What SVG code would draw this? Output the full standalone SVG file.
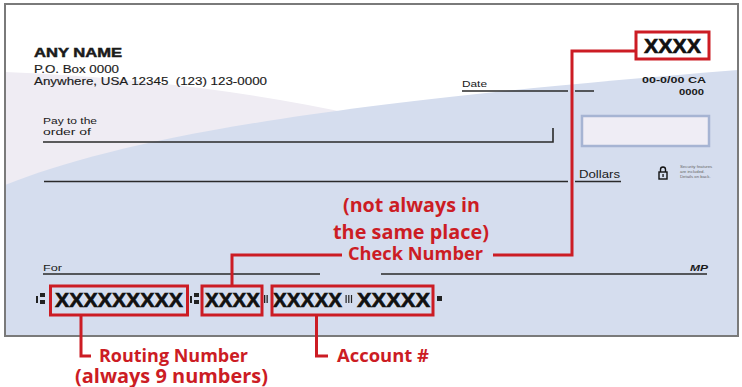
<svg xmlns="http://www.w3.org/2000/svg" width="742" height="387" viewBox="0 0 742 387">
<style>
.t{font-family:"Liberation Sans",Arial,sans-serif;fill:#1a1a1a}
.b{font-weight:bold}
.micr{font-family:"Liberation Sans",Arial,sans-serif;font-weight:bold;font-size:19.5px;fill:#111;stroke:#111;stroke-width:0.6}
.ln{stroke:#2a2a2a;stroke-width:1.6;fill:none}
.red{stroke:#cc1c24;stroke-width:3;fill:none}
.lbl{font-family:"Open Sans","Liberation Sans",Arial,sans-serif;font-weight:bold;fill:#cc1c24}
.sym{fill:#222}
</style>
<rect x="0" y="0" width="742" height="387" fill="#ffffff"/>
<g id="check">
<rect x="5" y="4" width="733" height="332" fill="#ffffff"/>
<path d="M5,72 Q200,80 362,116 L362,200 L5,200 Z" fill="#efecf3"/>
<path d="M5,185 C120,140 300,105 738,70 L738,336 L5,336 Z" fill="#d5ddee"/>
<rect x="5" y="4" width="733" height="332" fill="none" stroke="#7a7a7a" stroke-width="2"/>
</g>
<g id="header">
<text class="t b" x="34" y="56.5" font-size="13" stroke="#1a1a1a" stroke-width="0.5" textLength="88" lengthAdjust="spacingAndGlyphs">ANY NAME</text>
<text class="t" x="34" y="73" font-size="11.5" stroke="#1a1a1a" stroke-width="0.15" textLength="85" lengthAdjust="spacingAndGlyphs">P.O. Box 0000</text>
<text class="t" x="34" y="84.5" font-size="11.5" stroke="#1a1a1a" stroke-width="0.15" textLength="233" lengthAdjust="spacingAndGlyphs" xml:space="preserve">Anywhere, USA 12345  (123) 123-0000</text>
<text class="t b" x="642" y="83" font-size="9" textLength="64" lengthAdjust="spacingAndGlyphs">00-0/00 CA</text>
<text class="t b" x="679" y="95" font-size="9" textLength="25" lengthAdjust="spacingAndGlyphs">0000</text>
</g>
<g id="fields">
<text class="t" x="462" y="87" font-size="9.5" textLength="25" lengthAdjust="spacingAndGlyphs">Date</text>
<path class="ln" d="M462,91 H568 M575,91 H594"/>
<text class="t" x="43" y="124" font-size="9.5" textLength="54" lengthAdjust="spacingAndGlyphs">Pay to the</text>
<text class="t" x="43" y="135" font-size="9.5" textLength="48" lengthAdjust="spacingAndGlyphs">order of</text>
<path class="ln" d="M43,142 H553 V128"/>
<rect x="582" y="116" width="127" height="30" fill="#efedf5" stroke="#a6b4d3" stroke-width="2.5"/>
<path class="ln" d="M44,181.5 H568 M575,181.5 H621"/>
<text class="t" x="579" y="178" font-size="10" textLength="41" lengthAdjust="spacingAndGlyphs">Dollars</text>
<g id="lock">
<path d="M660.5,172 V169.5 A2.5,2.5 0 0 1 665.5,169.5 V172" fill="none" stroke="#111" stroke-width="1.4"/>
<rect x="659" y="172" width="8" height="7" fill="none" stroke="#111" stroke-width="1.4"/>
<rect x="662.4" y="174" width="1.3" height="3" fill="#111"/>
</g>
<text class="t" font-size="4.3" style="fill:#666">
<tspan x="680" y="168">Security features</tspan>
<tspan x="680" y="173">are included.</tspan>
<tspan x="680" y="178">Details on back.</tspan>
</text>
<text class="t" x="43" y="271" font-size="9.5" textLength="19" lengthAdjust="spacingAndGlyphs">For</text>
<path class="ln" d="M43,274 H320 M381,274 H707"/>
<text class="t b" x="690" y="271" font-size="8.5" font-style="italic" textLength="18" lengthAdjust="spacingAndGlyphs">MP</text>
</g>
<g id="micr">
<rect class="sym" x="36" y="296" width="2" height="7"/>
<rect class="sym" x="40" y="293" width="5" height="4"/>
<rect class="sym" x="40" y="300" width="5" height="4"/>
<text class="micr" x="55" y="307" textLength="128" lengthAdjust="spacingAndGlyphs">XXXXXXXXX</text>
<rect class="sym" x="190" y="296" width="2" height="7"/>
<rect class="sym" x="194" y="293" width="5" height="4"/>
<rect class="sym" x="194" y="300" width="5" height="4"/>
<text class="micr" x="205" y="307" textLength="55" lengthAdjust="spacingAndGlyphs">XXXX</text>
<rect class="sym" x="264" y="295" width="1.3" height="8"/>
<rect class="sym" x="266.5" y="295" width="1.3" height="8"/>
<text class="micr" x="273" y="307" textLength="69" lengthAdjust="spacingAndGlyphs">XXXXX</text>
<rect class="sym" x="345.5" y="295" width="1.2" height="8"/>
<rect class="sym" x="348.2" y="295" width="1.2" height="8"/>
<rect class="sym" x="350.9" y="295" width="1.2" height="8"/>
<text class="micr" x="357" y="307" textLength="73" lengthAdjust="spacingAndGlyphs">XXXXX</text>
<rect class="sym" x="437" y="296" width="5" height="5"/>
</g>
<g id="top-number">
<rect class="red" x="636" y="32" width="73" height="27" style="fill:#ffffff"/>
<text class="micr" x="644" y="53" textLength="57" lengthAdjust="spacingAndGlyphs">XXXX</text>
</g>
<g id="routing-box"><rect class="red" x="50.5" y="286" width="137" height="29"/></g>
<g id="check-box"><rect class="red" x="202" y="286" width="60" height="29"/></g>
<g id="account-box"><rect class="red" x="272" y="286" width="161" height="29"/></g>
<g id="connectors">
<path class="red" d="M232,286 V255 H342"/>
<path class="red" d="M493,255 H572 V51 H636"/>
<path class="red" d="M81,316 V356 H91"/>
<path class="red" d="M316.5,316 V356 H328"/>
</g>
<g id="labels">
<text class="lbl" x="343" y="212" font-size="19.5" textLength="137" lengthAdjust="spacingAndGlyphs">(not always in</text>
<text class="lbl" x="333" y="238.5" font-size="19.5" textLength="156" lengthAdjust="spacingAndGlyphs">the same place)</text>
<text class="lbl" x="348" y="260" font-size="17.5" textLength="135" lengthAdjust="spacingAndGlyphs">Check Number</text>
<text class="lbl" x="99" y="362" font-size="18.5" textLength="149" lengthAdjust="spacingAndGlyphs">Routing Number</text>
<text class="lbl" x="75" y="382.5" font-size="19" textLength="193" lengthAdjust="spacingAndGlyphs">(always 9 numbers)</text>
<text class="lbl" x="337" y="362" font-size="18.5" textLength="92" lengthAdjust="spacingAndGlyphs">Account #</text>
</g>
</svg>
